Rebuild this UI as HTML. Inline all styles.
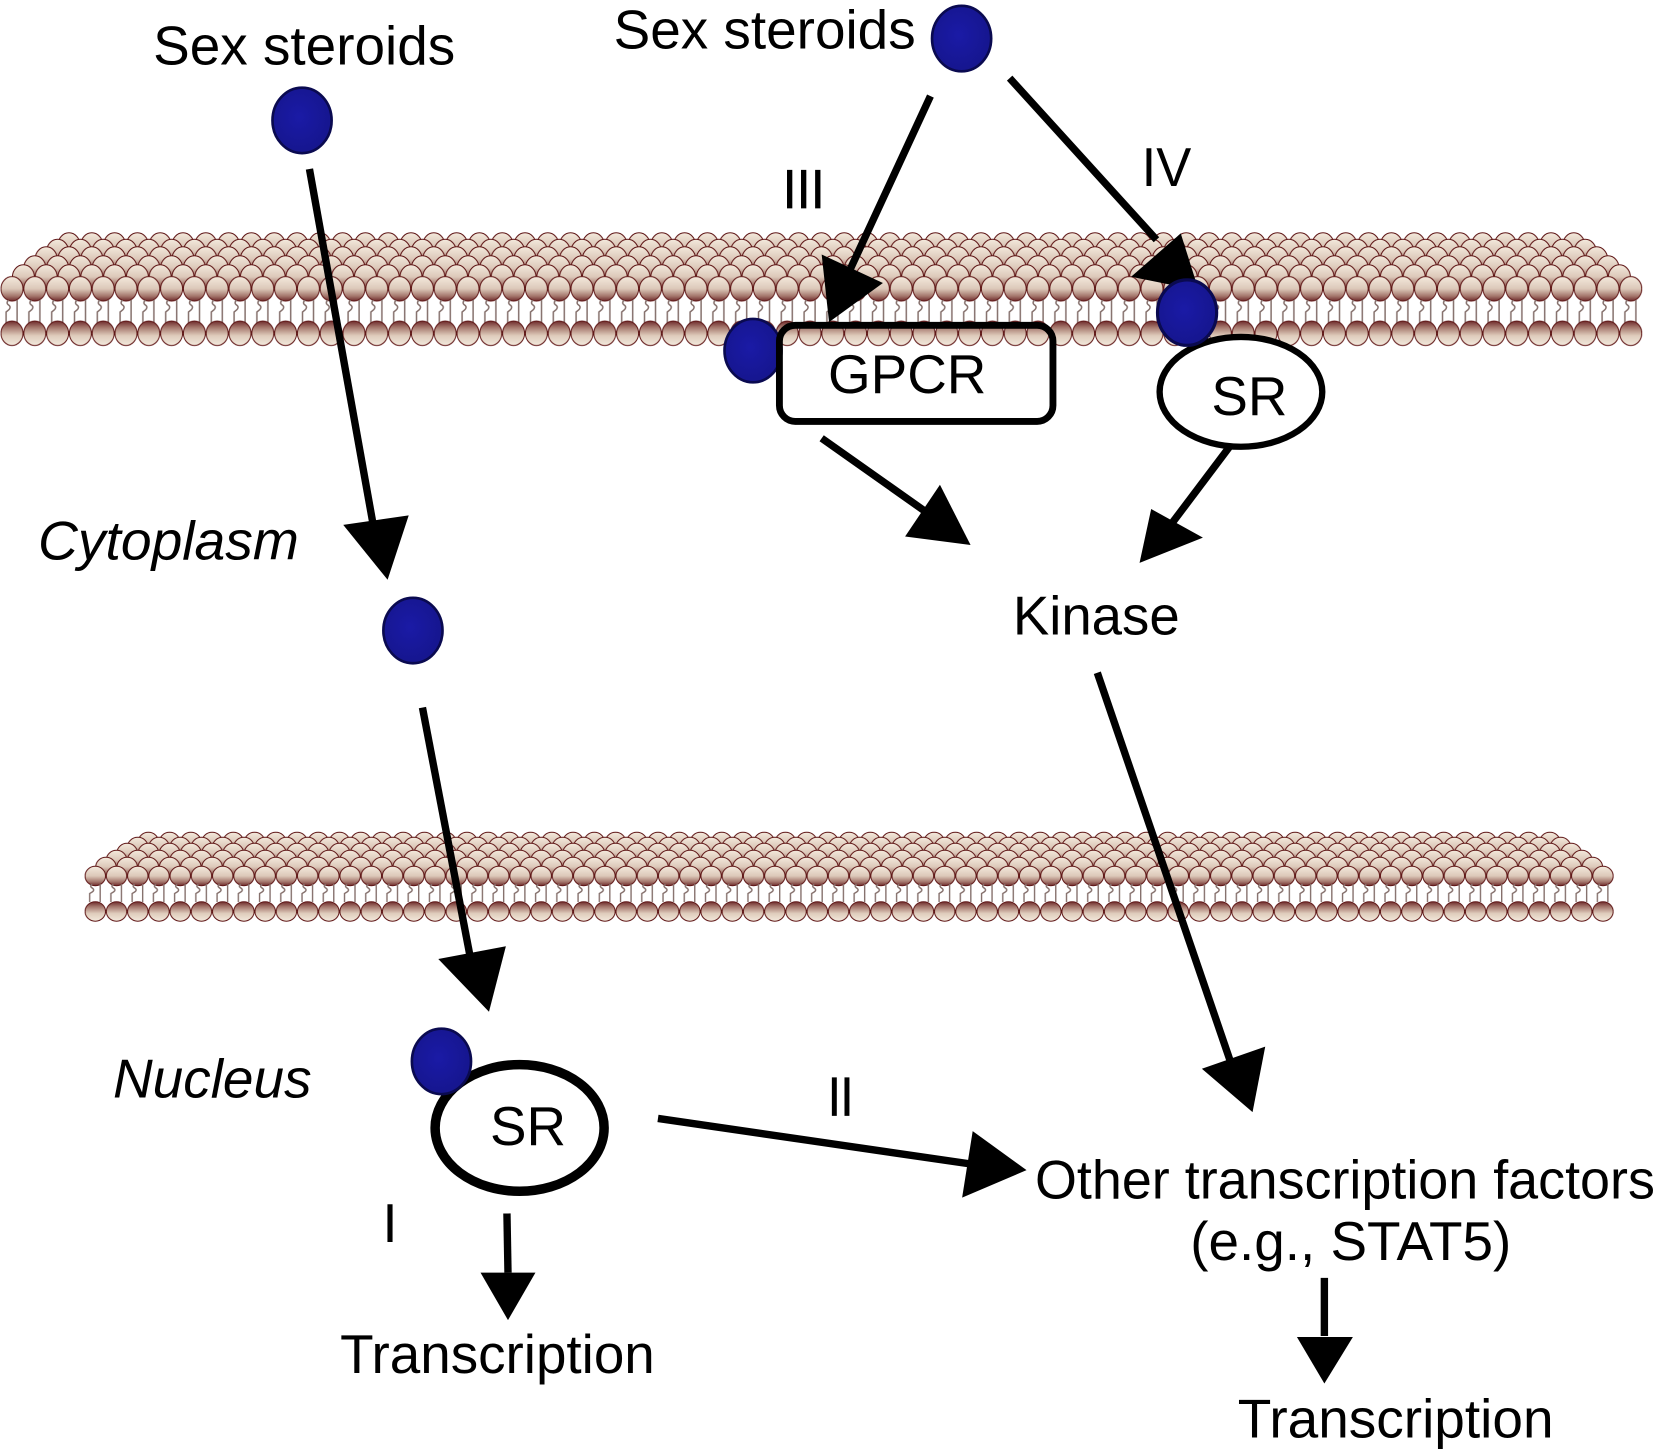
<!DOCTYPE html>
<html>
<head>
<meta charset="utf-8">
<style>
html,body{margin:0;padding:0;background:#fff;}
svg{display:block;}
text{font-family:"Liberation Sans",sans-serif;fill:#000;}
</style>
</head>
<body>
<svg xmlns="http://www.w3.org/2000/svg" width="1656" height="1449" viewBox="0 0 1656 1449">
<defs>
<linearGradient id="hd" x1="0" y1="0" x2="0" y2="1">
<stop offset="0" stop-color="#f3e9dc"/><stop offset=".5" stop-color="#dcc8b9"/><stop offset=".8" stop-color="#a4766c"/><stop offset="1" stop-color="#6e2c2c"/>
</linearGradient>
<linearGradient id="hu" x1="0" y1="0" x2="0" y2="1">
<stop offset="0" stop-color="#6e2c2c"/><stop offset=".25" stop-color="#a4766c"/><stop offset=".6" stop-color="#dfccbc"/><stop offset="1" stop-color="#f3e9dc"/>
</linearGradient>
<radialGradient id="blue" cx=".45" cy=".45" r=".65">
<stop offset="0" stop-color="#1a1aa6"/><stop offset="1" stop-color="#15158a"/>
</radialGradient>

<pattern id="a1" patternUnits="userSpaceOnUse" width="22.8" height="27"><ellipse cx="11.4" cy="13.5" rx="11" ry="12.2" fill="url(#hd)" stroke="#5f1616" stroke-width="1"/></pattern>
<pattern id="a2" patternUnits="userSpaceOnUse" width="22.8" height="27" patternTransform="translate(11.4,0)"><ellipse cx="11.4" cy="13.5" rx="11" ry="12.2" fill="url(#hd)" stroke="#5f1616" stroke-width="1"/></pattern>
<pattern id="a3" patternUnits="userSpaceOnUse" width="22.8" height="27" patternTransform="translate(11.4,0)"><ellipse cx="11.4" cy="13.5" rx="11" ry="12.2" fill="url(#hu)" stroke="#5f1616" stroke-width="1"/></pattern>
<pattern id="at" patternUnits="userSpaceOnUse" width="22.8" height="23"><g fill="none" stroke="#85706c" stroke-width="1.5"><path d="M16.5 0V23"/><path d="M8 0q-3 3 0 5t0 5l-2.500 2V23"/></g></pattern>

<pattern id="b1" patternUnits="userSpaceOnUse" width="21.235" height="22"><ellipse cx="10.62" cy="11" rx="10.2" ry="9.7" fill="url(#hd)" stroke="#5f1616" stroke-width="1"/></pattern>
<pattern id="b2" patternUnits="userSpaceOnUse" width="21.235" height="22" patternTransform="translate(10.62,0)"><ellipse cx="10.62" cy="11" rx="10.2" ry="9.7" fill="url(#hd)" stroke="#5f1616" stroke-width="1"/></pattern>
<pattern id="b3" patternUnits="userSpaceOnUse" width="21.235" height="22" patternTransform="translate(10.62,0)"><ellipse cx="10.62" cy="11" rx="10.2" ry="9.7" fill="url(#hu)" stroke="#5f1616" stroke-width="1"/></pattern>
<pattern id="bt" patternUnits="userSpaceOnUse" width="21.235" height="18"><g fill="none" stroke="#85706c" stroke-width="1.4"><path d="M15.500 0V18"/><path d="M7.500 0q-3 2 0 4t0 4l-2.500 1.500V18"/></g></pattern>
</defs>
<rect width="1656" height="1449" fill="#fff"/>

<!-- upper membrane -->
<g transform="translate(12,0)">
<g transform="translate(0,231.500)"><rect x="45.600" y="0" width="1527.600" height="27" fill="url(#a1)"/></g>
<g transform="translate(0,238)"><rect x="34.200" y="0" width="1550.400" height="27" fill="url(#a2)"/></g>
<g transform="translate(0,245.500)"><rect x="22.800" y="0" width="1573.200" height="27" fill="url(#a1)"/></g>
<g transform="translate(0,254.500)"><rect x="11.400" y="0" width="1596" height="27" fill="url(#a2)"/></g>
<g transform="translate(0,263.500)"><rect x="0" y="0" width="1618.800" height="27" fill="url(#a1)"/></g>
<g transform="translate(0,275.300)"><rect x="-11.400" y="0" width="1641.600" height="27" fill="url(#a2)"/></g>
<g transform="translate(-11.400,300)"><rect x="0" y="0" width="1641.600" height="23" fill="url(#at)"/></g>
<g transform="translate(0,319.800)"><rect x="-11.400" y="0" width="1641.600" height="27" fill="url(#a3)"/></g>
</g>

<!-- lower membrane -->
<g transform="translate(95.300,0)">
<g transform="translate(0,831)"><rect x="42.470" y="0" width="1422.750" height="22" fill="url(#b1)"/></g>
<g transform="translate(0,836)"><rect x="31.850" y="0" width="1443.980" height="22" fill="url(#b2)"/></g>
<g transform="translate(0,842)"><rect x="21.235" y="0" width="1465.220" height="22" fill="url(#b1)"/></g>
<g transform="translate(0,849)"><rect x="10.620" y="0" width="1486.450" height="22" fill="url(#b2)"/></g>
<g transform="translate(0,856)"><rect x="0" y="0" width="1507.690" height="22" fill="url(#b1)"/></g>
<g transform="translate(0,865)"><rect x="-10.620" y="0" width="1528.920" height="22" fill="url(#b2)"/></g>
<g transform="translate(-10.620,884)"><rect x="0" y="0" width="1528.920" height="18" fill="url(#bt)"/></g>
<g transform="translate(0,900.500)"><rect x="-10.620" y="0" width="1528.920" height="22" fill="url(#b3)"/></g>
</g>

<g transform="scale(1.05612)">
<!-- connectors -->
<g stroke="#000" stroke-width="7" fill="none">
<path d="M293 160L353 495"/>
<path d="M400 670L445 905"/>
<path d="M881 91L805 255"/>
<path d="M956 74L1095 227"/>
<path d="M778 415L880 487"/>
<path d="M1168 418L1110 495"/>
<path d="M1039 637L1165 1005"/>
<path d="M623 1059L925 1103"/>
<path d="M480 1149L481 1205"/>
<path d="M1254 1210L1254 1265"/>
</g>
<g fill="#000">
<path d="M367 549L325 497L387 488Z"/>
<path d="M463 958L415 908L479 896Z"/>
<path d="M785 305L778 241L836 268Z"/>
<path d="M1135 275L1071 262L1118 221Z"/>
<path d="M919 516L857 508L890 459Z"/>
<path d="M1079 533L1090 482L1139 509Z"/>
<path d="M1186 1053L1138 1012L1198 991Z"/>
<path d="M972 1108L921 1071L911 1134Z"/>
<path d="M481 1250L455 1205L507 1205Z"/>
<path d="M1254 1310L1228 1266L1281 1266Z"/>
</g>

<!-- receptors -->
<ellipse cx="713" cy="332" rx="27" ry="30" fill="url(#blue)" stroke="#0a0a50" stroke-width="2.500"/>
<rect x="738" y="308" width="259" height="91" rx="15" ry="15" fill="none" stroke="#000" stroke-width="6.500"/>
<ellipse cx="1175" cy="371" rx="77" ry="52" fill="#fff" stroke="#000" stroke-width="6"/>
<ellipse cx="1124" cy="296" rx="28" ry="31" fill="url(#blue)" stroke="#0a0a50" stroke-width="3"/>
<ellipse cx="492" cy="1068" rx="80" ry="60" fill="#fff" stroke="#000" stroke-width="9"/>
<ellipse cx="418" cy="1005" rx="28" ry="31" fill="url(#blue)" stroke="#0a0a50" stroke-width="2.500"/>
<ellipse cx="286" cy="114" rx="28" ry="31" fill="url(#blue)" stroke="#0a0a50" stroke-width="2.500"/>
<ellipse cx="910.500" cy="36.500" rx="28" ry="31" fill="url(#blue)" stroke="#0a0a50" stroke-width="2.500"/>
<ellipse cx="391" cy="597" rx="28" ry="31" fill="url(#blue)" stroke="#0a0a50" stroke-width="2.500"/>

<!-- labels -->
<g font-size="52">
<text x="145" y="61" textLength="286" lengthAdjust="spacingAndGlyphs">Sex steroids</text>
<text x="581" y="46" textLength="286" lengthAdjust="spacingAndGlyphs">Sex steroids</text>
<text x="36" y="530" textLength="247" lengthAdjust="spacingAndGlyphs" font-style="italic">Cytoplasm</text>
<text x="741" y="197" textLength="40" lengthAdjust="spacingAndGlyphs" stroke="#000" stroke-width=".6">III</text>
<text x="1081" y="176" textLength="47" lengthAdjust="spacingAndGlyphs">IV</text>
<text x="784" y="372" textLength="150" lengthAdjust="spacingAndGlyphs">GPCR</text>
<text x="1147" y="393" textLength="72" lengthAdjust="spacingAndGlyphs">SR</text>
<text x="959" y="601" textLength="158" lengthAdjust="spacingAndGlyphs">Kinase</text>
<text x="107" y="1039" textLength="188" lengthAdjust="spacingAndGlyphs" font-style="italic">Nucleus</text>
<text x="464" y="1084" textLength="72" lengthAdjust="spacingAndGlyphs">SR</text>
<text x="784" y="1056" textLength="24" lengthAdjust="spacingAndGlyphs" stroke="#000" stroke-width=".8">II</text>
<text x="362" y="1176">I</text>
<text x="322" y="1300" textLength="298" lengthAdjust="spacingAndGlyphs">Transcription</text>
<text x="980" y="1135" textLength="587" lengthAdjust="spacingAndGlyphs">Other transcription factors</text>
<text x="1127" y="1193" textLength="304" lengthAdjust="spacingAndGlyphs">(e.g., STAT5)</text>
<text x="1172" y="1361" textLength="299" lengthAdjust="spacingAndGlyphs">Transcription</text>
</g>
</g>
</svg>
</body>
</html>
